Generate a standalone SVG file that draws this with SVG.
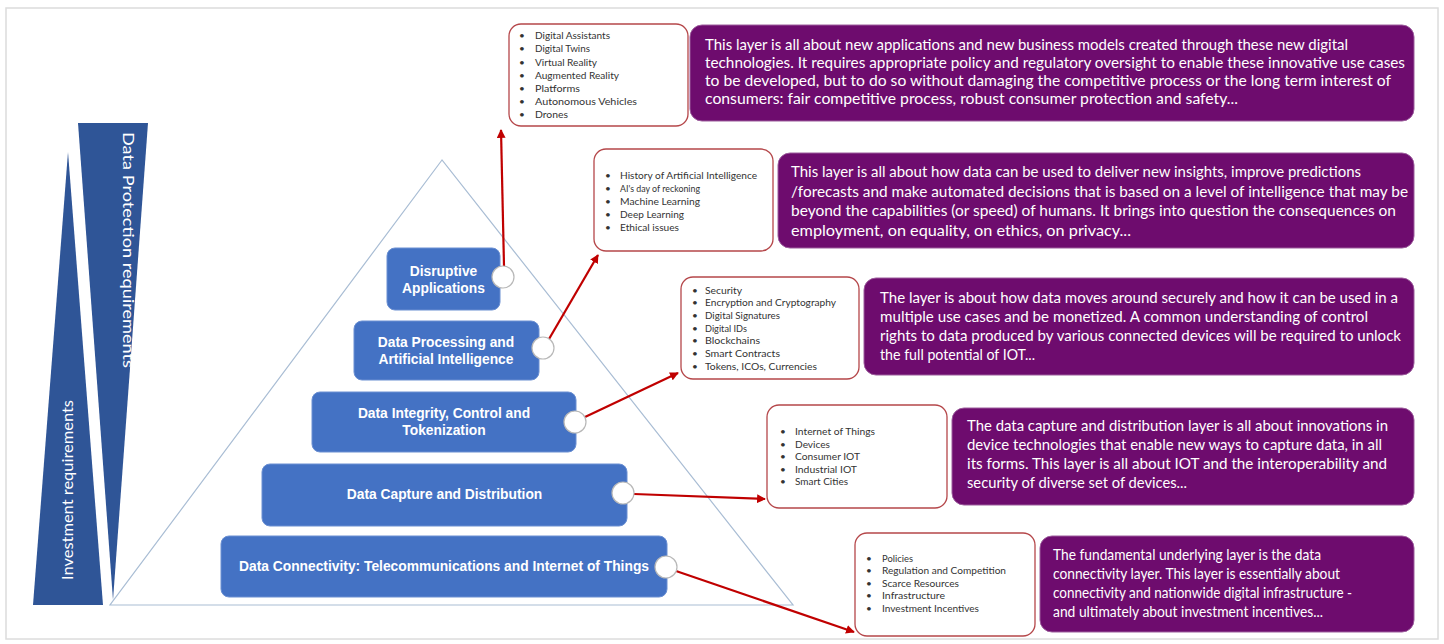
<svg xmlns="http://www.w3.org/2000/svg" width="1444" height="644" viewBox="0 0 1444 644">
<style>
.layer{fill:#4472C4;stroke:#6a8fd2;stroke-width:1}
.lt{font-family:"Liberation Sans",Arial,sans-serif;font-weight:bold;font-size:13.8px;fill:#fff;text-anchor:middle}
.bbox{fill:#fff;stroke:#b5474a;stroke-width:1.3}
.bt{font-family:Lato,"Liberation Sans",sans-serif;font-size:10px;fill:#333}
.pbox{fill:#6E0C6E;stroke:#9c5c9c;stroke-width:1}
.pt{font-family:Lato,"Liberation Sans",sans-serif;font-size:15px;fill:#fff}
.bar{fill:#2F5597}
.bart{font-family:Lato,"Liberation Sans",sans-serif;font-size:15.5px;fill:#fff;text-anchor:middle}
.port{fill:#fff;stroke:#b8b8b8;stroke-width:1.2}
.conn{stroke:#C00000;stroke-width:2.2;fill:none;marker-end:url(#ah)}
</style>
<defs>
<marker id="ah" viewBox="0 0 10 10" refX="9" refY="5" markerWidth="4" markerHeight="4" orient="auto" markerUnits="strokeWidth">
<path d="M0,0 L10,5 L0,10 z" fill="#C00000"/>
</marker>
</defs>
<rect x="0" y="0" width="1444" height="644" fill="#fff"/>
<rect x="6" y="8" width="1432" height="631" fill="none" stroke="#dcdcdc" stroke-width="1.5"/>

<g id="investment-requirements">
<polygon class="bar" points="68,152 103,605 33,605"/>
<text class="bart" transform="translate(68,490) rotate(-90)" dy="0.35em" textLength="180" lengthAdjust="spacingAndGlyphs">Investment requirements</text>
</g>
<g id="data-protection-requirements">
<polygon class="bar" points="78,123 148,123 113,600"/>
<text class="bart" transform="translate(128,250) rotate(90)" dy="0.35em" textLength="236" lengthAdjust="spacingAndGlyphs">Data Protection requirements</text>
</g>

<g id="pyramid">
<polygon points="442,160 110,605 793,605" fill="none" stroke="#a9bdd4" stroke-width="1.2"/>
</g>

<g id="layer-disruptive">
<rect class="layer" x="387" y="248" width="113" height="62" rx="8"/>
<text class="lt" x="443.5" y="276">Disruptive</text>
<text class="lt" x="443.5" y="293">Applications</text>
</g>
<g id="layer-processing">
<rect class="layer" x="354" y="321" width="185" height="59" rx="8"/>
<text class="lt" x="446" y="347">Data Processing and</text>
<text class="lt" x="446" y="364">Artificial Intelligence</text>
</g>
<g id="layer-integrity">
<rect class="layer" x="312" y="392" width="264" height="60" rx="8"/>
<text class="lt" x="444" y="418">Data Integrity, Control and</text>
<text class="lt" x="444" y="435">Tokenization</text>
</g>
<g id="layer-capture">
<rect class="layer" x="262" y="464" width="365" height="62" rx="8"/>
<text class="lt" x="444.5" y="499">Data Capture and Distribution</text>
</g>
<g id="layer-connectivity">
<rect class="layer" x="221" y="536" width="446" height="61" rx="8"/>
<text class="lt" x="444" y="571" textLength="410">Data Connectivity: Telecommunications and Internet of Things</text>
</g>

<g id="list-applications">
<rect class="bbox" x="509" y="24" width="179" height="102" rx="12"/>
<g class="bt">
<text x="519" y="39.2">•</text><text x="535" y="39.2" textLength="75" lengthAdjust="spacingAndGlyphs">Digital Assistants</text>
<text x="519" y="52.4">•</text><text x="535" y="52.4" textLength="55" lengthAdjust="spacingAndGlyphs">Digital Twins</text>
<text x="519" y="65.6">•</text><text x="535" y="65.6" textLength="62" lengthAdjust="spacingAndGlyphs">Virtual Reality</text>
<text x="519" y="78.8">•</text><text x="535" y="78.8" textLength="84" lengthAdjust="spacingAndGlyphs">Augmented Reality</text>
<text x="519" y="92">•</text><text x="535" y="92" textLength="45" lengthAdjust="spacingAndGlyphs">Platforms</text>
<text x="519" y="105.2">•</text><text x="535" y="105.2" textLength="102" lengthAdjust="spacingAndGlyphs">Autonomous Vehicles</text>
<text x="519" y="118.4">•</text><text x="535" y="118.4" textLength="33" lengthAdjust="spacingAndGlyphs">Drones</text>
</g>
</g>
<g id="list-ai">
<rect class="bbox" x="594" y="149" width="179" height="102" rx="12"/>
<g class="bt">
<text x="605" y="178.5">•</text><text x="620" y="178.5" textLength="137" lengthAdjust="spacingAndGlyphs">History of Artificial Intelligence</text>
<text x="605" y="191.5">•</text><text x="620" y="191.5" textLength="80" lengthAdjust="spacingAndGlyphs">AI's day of reckoning</text>
<text x="605" y="204.5">•</text><text x="620" y="204.5" textLength="80" lengthAdjust="spacingAndGlyphs">Machine Learning</text>
<text x="605" y="217.5">•</text><text x="620" y="217.5" textLength="64" lengthAdjust="spacingAndGlyphs">Deep Learning</text>
<text x="605" y="230.5">•</text><text x="620" y="230.5" textLength="59" lengthAdjust="spacingAndGlyphs">Ethical issues</text>
</g>
</g>
<g id="list-integrity">
<rect class="bbox" x="681" y="277" width="178" height="102" rx="12"/>
<g class="bt">
<text x="692" y="293.5">•</text><text x="705" y="293.5" textLength="37" lengthAdjust="spacingAndGlyphs">Security</text>
<text x="692" y="306.2">•</text><text x="705" y="306.2" textLength="131" lengthAdjust="spacingAndGlyphs">Encryption and Cryptography</text>
<text x="692" y="318.9">•</text><text x="705" y="318.9" textLength="75" lengthAdjust="spacingAndGlyphs">Digital Signatures</text>
<text x="692" y="331.6">•</text><text x="705" y="331.6" textLength="42" lengthAdjust="spacingAndGlyphs">Digital IDs</text>
<text x="692" y="344.3">•</text><text x="705" y="344.3" textLength="55" lengthAdjust="spacingAndGlyphs">Blockchains</text>
<text x="692" y="357">•</text><text x="705" y="357" textLength="75" lengthAdjust="spacingAndGlyphs">Smart Contracts</text>
<text x="692" y="369.7">•</text><text x="705" y="369.7" textLength="112" lengthAdjust="spacingAndGlyphs">Tokens, ICOs, Currencies</text>
</g>
</g>
<g id="list-capture">
<rect class="bbox" x="767" y="405" width="180" height="103" rx="12"/>
<g class="bt">
<text x="780" y="435.2">•</text><text x="795" y="435.2" textLength="80" lengthAdjust="spacingAndGlyphs">Internet of Things</text>
<text x="780" y="447.7">•</text><text x="795" y="447.7" textLength="35" lengthAdjust="spacingAndGlyphs">Devices</text>
<text x="780" y="460.2">•</text><text x="795" y="460.2" textLength="65" lengthAdjust="spacingAndGlyphs">Consumer IOT</text>
<text x="780" y="472.7">•</text><text x="795" y="472.7" textLength="62" lengthAdjust="spacingAndGlyphs">Industrial IOT</text>
<text x="780" y="485.2">•</text><text x="795" y="485.2" textLength="53" lengthAdjust="spacingAndGlyphs">Smart Cities</text>
</g>
</g>
<g id="list-connectivity">
<rect class="bbox" x="855" y="533" width="180" height="103" rx="12"/>
<g class="bt">
<text x="866" y="561.8">•</text><text x="882" y="561.8" textLength="31" lengthAdjust="spacingAndGlyphs">Policies</text>
<text x="866" y="574.3">•</text><text x="882" y="574.3" textLength="124" lengthAdjust="spacingAndGlyphs">Regulation and Competition</text>
<text x="866" y="586.8">•</text><text x="882" y="586.8" textLength="77" lengthAdjust="spacingAndGlyphs">Scarce Resources</text>
<text x="866" y="599.3">•</text><text x="882" y="599.3" textLength="63" lengthAdjust="spacingAndGlyphs">Infrastructure</text>
<text x="866" y="611.8">•</text><text x="882" y="611.8" textLength="97" lengthAdjust="spacingAndGlyphs">Investment Incentives</text>
</g>
</g>

<g id="desc-applications">
<rect class="pbox" x="690" y="25" width="724" height="96" rx="12"/>
<g class="pt" font-size="14.5">
<text x="705" y="50" textLength="643" lengthAdjust="spacingAndGlyphs">This layer is all about new applications and new business models created through these new digital</text>
<text x="705" y="68" textLength="700" lengthAdjust="spacingAndGlyphs">technologies. It requires appropriate policy and regulatory oversight to enable these innovative use cases</text>
<text x="705" y="86" textLength="686" lengthAdjust="spacingAndGlyphs">to be developed, but to do so without damaging the competitive process or the long term interest of</text>
<text x="705" y="104" textLength="533" lengthAdjust="spacingAndGlyphs">consumers: fair competitive process, robust consumer protection and safety...</text>
</g>
</g>
<g id="desc-ai">
<rect class="pbox" x="778" y="153" width="636" height="95" rx="12"/>
<g class="pt">
<text x="791" y="177" textLength="570" lengthAdjust="spacingAndGlyphs">This layer is all about how data can be used to deliver new insights, improve predictions</text>
<text x="791" y="196.5" textLength="617" lengthAdjust="spacingAndGlyphs">/forecasts and make automated decisions that is based on a level of intelligence that may be</text>
<text x="791" y="216" textLength="605" lengthAdjust="spacingAndGlyphs">beyond the capabilities (or speed) of humans. It brings into question the consequences on</text>
<text x="791" y="235.5" textLength="340" lengthAdjust="spacingAndGlyphs">employment, on equality, on ethics, on privacy...</text>
</g>
</g>
<g id="desc-integrity">
<rect class="pbox" x="864" y="278" width="550" height="97" rx="12"/>
<g class="pt">
<text x="880" y="303" textLength="518" lengthAdjust="spacingAndGlyphs">The layer is about how data moves around securely and how it can be used in a</text>
<text x="880" y="322" textLength="488" lengthAdjust="spacingAndGlyphs">multiple use cases and be monetized. A common understanding of control</text>
<text x="880" y="341" textLength="521" lengthAdjust="spacingAndGlyphs">rights to data produced by various connected devices will be required to unlock</text>
<text x="880" y="360" textLength="155" lengthAdjust="spacingAndGlyphs">the full potential of IOT...</text>
</g>
</g>
<g id="desc-capture">
<rect class="pbox" x="952" y="408" width="462" height="97" rx="12"/>
<g class="pt">
<text x="967" y="430.5" textLength="421" lengthAdjust="spacingAndGlyphs">The data capture and distribution layer is all about innovations in</text>
<text x="967" y="449.5" textLength="415" lengthAdjust="spacingAndGlyphs">device technologies that enable new ways to capture data, in all</text>
<text x="967" y="468.5" textLength="420" lengthAdjust="spacingAndGlyphs">its forms. This layer is all about IOT and the interoperability and</text>
<text x="967" y="487.5" textLength="220" lengthAdjust="spacingAndGlyphs">security of diverse set of devices...</text>
</g>
</g>
<g id="desc-connectivity">
<rect class="pbox" x="1040" y="536" width="374" height="96" rx="12"/>
<g class="pt">
<text x="1053" y="560" textLength="268" lengthAdjust="spacingAndGlyphs">The fundamental underlying layer is the data</text>
<text x="1053" y="579" textLength="287" lengthAdjust="spacingAndGlyphs">connectivity layer. This layer is essentially about</text>
<text x="1053" y="598" textLength="299" lengthAdjust="spacingAndGlyphs">connectivity and nationwide digital infrastructure -</text>
<text x="1053" y="617" textLength="270" lengthAdjust="spacingAndGlyphs">and ultimately about investment incentives...</text>
</g>
</g>

<g id="connectors">
<path class="conn" d="M504,266 L501,130"/>
<path class="conn" d="M549,339 L598,255"/>
<path class="conn" d="M585,417 L678,373"/>
<path class="conn" d="M634,494 L765,499"/>
<path class="conn" d="M676,571 L854,632"/>
</g>

<g id="ports">
<circle class="port" cx="503" cy="277" r="11"/>
<circle class="port" cx="543" cy="348" r="11"/>
<circle class="port" cx="575" cy="422" r="11"/>
<circle class="port" cx="623" cy="493" r="11"/>
<circle class="port" cx="666" cy="567" r="11"/>
</g>
</svg>
